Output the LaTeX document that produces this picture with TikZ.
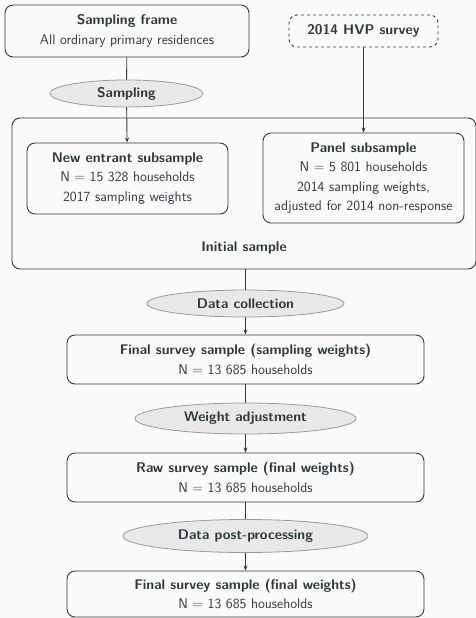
\documentclass[tikz,border=0pt]{standalone}
\usetikzlibrary{shapes.geometric, arrows.meta, positioning}
\definecolor{ink}{HTML}{2E3A3F}
\definecolor{stepfill}{HTML}{E8E8E8}
\definecolor{stepline}{HTML}{9A9A9A}
\definecolor{paper}{HTML}{FAFAFA}
\newcommand{\flowfont}{\sffamily\fontsize{14}{19.5}\selectfont}
\tikzset{
    sample/.style={rectangle, rounded corners=8pt, draw=ink, line width=0.9pt, align=center, text=ink},
    source/.style={sample, dashed},
    stage/.style={ellipse, draw=stepline, fill=stepfill, line width=0.8pt, text=ink, font=\flowfont\bfseries, inner sep=0pt},
    flow/.style={draw=ink, line width=0.9pt},
    >={Stealth[length=5pt, width=4pt]},
}

\begin{document}
\begin{tikzpicture}[x=1pt, y=-1pt, font=\flowfont]

    \fill [paper] (0,0) rectangle (476,618);
    \useasboundingbox (0,0) rectangle (476,618);

    % Nodes
    \node (frame) [sample, minimum width=244, minimum height=52] at (127,31)
        {\textbf{Sampling frame}\\All ordinary primary residences};
    \node (hvp) [source, minimum width=149, minimum height=32] at (363.5,31)
        {\textbf{2014 HVP survey}};
    \node (sampling) [stage, minimum width=153, minimum height=27] at (126.5,93.5) {Sampling};

    \node (init) [sample, minimum width=464, minimum height=151] at (244,193.5) {};
    \node (initlab) [above=12pt of init.south, text=ink] {\textbf{Initial sample}};
    \node (newent) [sample, minimum width=201, minimum height=71] at (127.5,178.5)
        {\textbf{New entrant subsample}\\N = 15 328 households\\2017 sampling weights};
    \node (panel) [sample, minimum width=201, minimum height=90] at (363.5,178)
        {\textbf{Panel subsample}\\N = 5 801 households\\2014 sampling weights,\\adjusted for 2014 non-response};

    \node (collect) [stage, minimum width=197, minimum height=27] at (245.5,303.5) {Data collection};
    \node (survey) [sample, minimum width=357, minimum height=49] at (245.5,359.5)
        {\textbf{Final survey sample (sampling weights)}\\N = 13 685 households};
    \node (weight) [stage, minimum width=221, minimum height=31] at (245.5,418.5) {Weight adjustment};
    \node (raw) [sample, minimum width=357, minimum height=49] at (245.5,477.5)
        {\textbf{Raw survey sample (final weights)}\\N = 13 685 households};
    \node (post) [stage, minimum width=245, minimum height=33] at (245.5,536) {Data post-processing};
    \node (final) [sample, minimum width=357, minimum height=46] at (245.5,594)
        {\textbf{Final survey sample (final weights)}\\N = 13 685 households};

    % Connectors
    \draw [flow] (frame) -- (sampling);
    \draw [flow, ->] (sampling) -- (newent);
    \draw [flow, ->] (hvp) -- (panel);
    \draw [flow] (init.south -| collect) -- (collect);
    \draw [flow, ->] (collect) -- (survey);
    \draw [flow] (survey) -- (weight);
    \draw [flow, ->] (weight) -- (raw);
    \draw [flow] (raw) -- (post);
    \draw [flow, ->] (post) -- (final);

\end{tikzpicture}
\end{document}
